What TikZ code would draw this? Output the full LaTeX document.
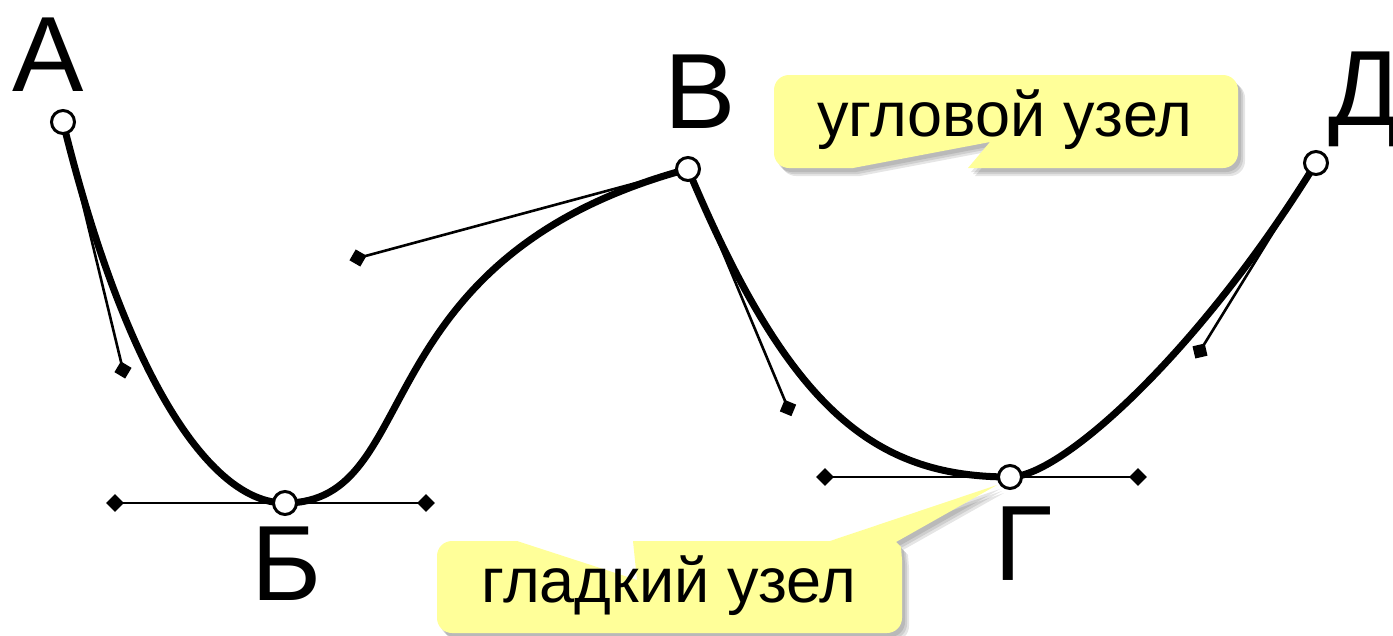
\documentclass[tikz,border=0pt]{standalone}
\usepackage{fontspec}
\setmainfont{Liberation Sans}
\definecolor{calloutyellow}{RGB}{255,255,153}
\newcommand{\myUpperPath}{(774,120) [rounded corners=15pt] -- (774,75) -- (1238,75) -- (1238,168) -- (1100,168) [sharp corners] -- (968,168) -- (990,142) -- (853,168) -- (820,168) [rounded corners=15pt] -- (774,168) -- cycle}
\newcommand{\myLowerPath}{(437,590) [rounded corners=15pt] -- (437,541) -- (490,541) [sharp corners] -- (517,541) -- (637,580) -- (633,541) -- (830,541) -- (997,485) -- (896,542) -- (901,547) -- (902,560) [rounded corners=15pt] -- (902,633) -- (437,633) -- cycle}
\begin{document}
\begin{tikzpicture}[x=1pt,y=-1pt,
  curve/.style={line width=7pt, line cap=round},
  handleline/.style={line width=2.6pt},
  knot/.style={circle, draw=black, fill=white, line width=3pt, minimum size=23pt, inner sep=0pt},
  handle/.style={rectangle, fill=black, minimum size=12.5pt, inner sep=0pt},
  bigletter/.style={font=\fontsize{107}{120}\selectfont, inner sep=0pt, anchor=base},
  calltext/.style={font=\fontsize{63}{75}\selectfont, inner sep=0pt, anchor=base},
  shadowfill/.style={fill=black, fill opacity=0.10},
  callfill/.style={fill=calloutyellow}]
\useasboundingbox (0,0) rectangle (1393,635);
% knots and handle positions
\coordinate (pA) at (63,122);
\coordinate (hA) at (123,370);
\coordinate (pB) at (285,503);
\coordinate (hBl) at (115,503);
\coordinate (hBr) at (426,503);
\coordinate (pV) at (688,169);
\coordinate (hVl) at (358,258);
\coordinate (hVr) at (788,408);
\coordinate (pG) at (1010,477);
\coordinate (hGl) at (825,477);
\coordinate (hGr) at (1138,477);
\coordinate (pD) at (1316,163);
\coordinate (hD) at (1200,351);
% curve control points
\coordinate (cA) at (124,370);
\coordinate (cBl) at (208,503);
\coordinate (cBr) at (426,503);
\coordinate (cVl) at (358,258);
\coordinate (cVr) at (788,408);
\coordinate (cGl) at (873,477);
\coordinate (cGr) at (1062,477);
\coordinate (cD) at (1200,351);
% callouts with shadows
\foreach \s in {3,5,7} {
  \fill[shadowfill, shift={(\s pt,-\s pt-1pt)}] \myUpperPath;
  \fill[shadowfill, shift={(\s pt,-\s pt-1pt)}] \myLowerPath;
}
\fill[callfill] \myUpperPath;
\fill[callfill] \myLowerPath;
\node[calltext] (t1) at (1005,136) {угловой узел};
\node[calltext] (t2) at (669,602) {гладкий узел};
% handle lines
\draw[handleline] (pA) -- (hA);
\draw[handleline] (hBl) -- (hBr);
\draw[handleline] (hVl) -- (pV) -- (hVr);
\draw[handleline] (hGl) -- (hGr);
\draw[handleline] (pD) -- (hD);
% curve
\draw[curve] (pA) .. controls (cA) and (cBl) .. (pB)
  .. controls (cBr) and (cVl) .. (pV)
  .. controls (cVr) and (cGl) .. (pG)
  .. controls (cGr) and (cD) .. (pD);
% handles
\node[handle, rotate=-31] (nhA) at (hA) {};
\node[handle, rotate=45] (nhBl) at (hBl) {};
\node[handle, rotate=45] (nhBr) at (hBr) {};
\node[handle, rotate=60] (nhVl) at (hVl) {};
\node[handle, rotate=-22.5] (nhVr) at (hVr) {};
\node[handle, rotate=45] (nhGl) at (hGl) {};
\node[handle, rotate=45] (nhGr) at (hGr) {};
\node[handle, rotate=13] (nhD) at (hD) {};
% knots
\node[knot] (A) at (pA) {};
\node[knot] (B) at (pB) {};
\node[knot] (V) at (pV) {};
\node[knot] (G) at (pG) {};
\node[knot] (D) at (pD) {};
% labels
\node[bigletter] (lA) at (48,91) {А};
\node[bigletter] (lB) at (287,600) {Б};
\node[bigletter] (lV) at (700,128) {В};
\node[bigletter] (lG) at (1023,580) {Г};
\node[bigletter, anchor=base west] (lD) at (1328,125) {Д};
\end{tikzpicture}
\end{document}
